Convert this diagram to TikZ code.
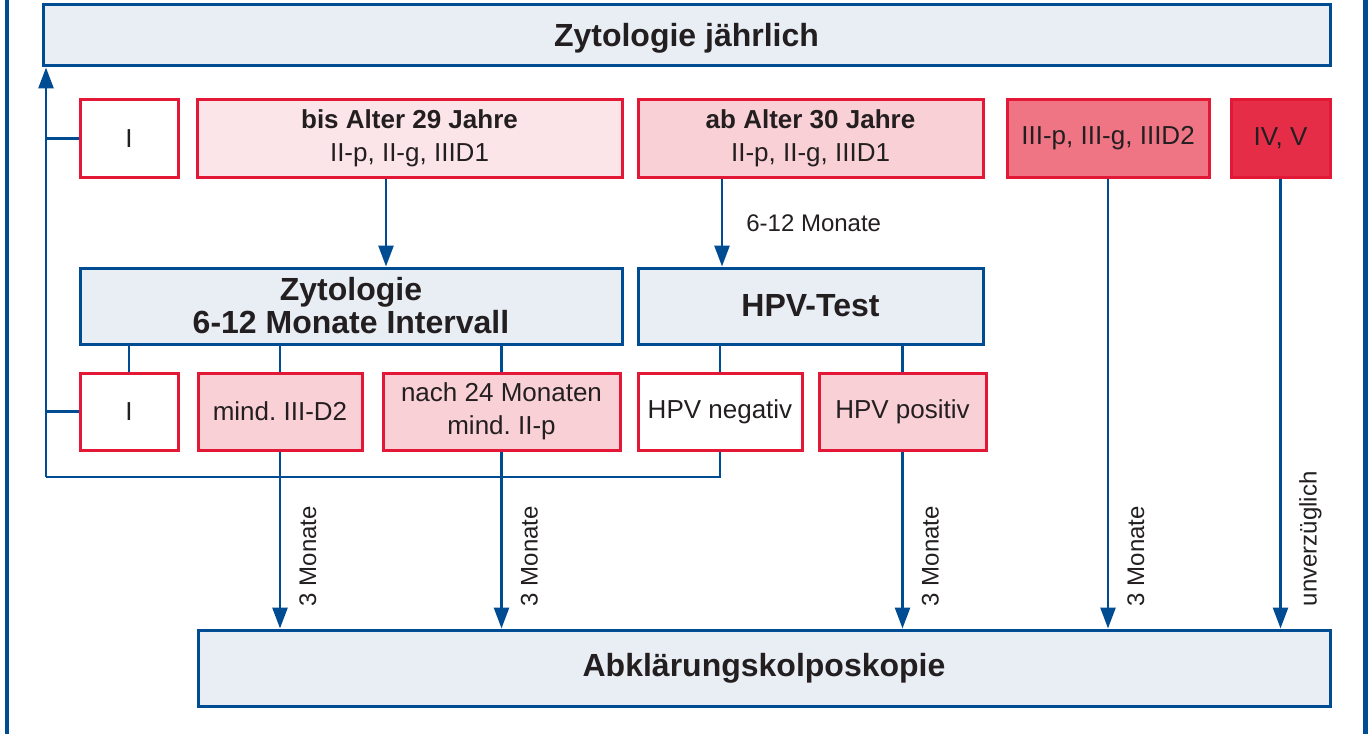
\documentclass[tikz,border=0pt]{standalone}
\usepackage{fontspec}
\setmainfont{Liberation Sans}
\usetikzlibrary{arrows.meta}
\definecolor{dblue}{HTML}{004C93}
\definecolor{lblue}{HTML}{E9EEF5}
\definecolor{rborder}{HTML}{E31837}
\definecolor{pink1}{HTML}{FCE5E8}
\definecolor{pink2}{HTML}{F9D0D6}
\definecolor{pink3}{HTML}{EF7585}
\definecolor{pink4}{HTML}{E52D48}
\definecolor{txt}{HTML}{231F20}
\frenchspacing
\begin{document}
\frenchspacing
\begin{tikzpicture}[x=1pt,y=-1pt,
  bbox/.style={draw=dblue, line width=3pt, fill=lblue, inner sep=0pt, text=txt, align=center,
    font=\fontsize{32}{33}\selectfont\bfseries},
  rbox/.style={draw=rborder, line width=3pt, fill=white, inner sep=0pt, text=txt, align=center,
    font=\fontsize{26}{33}\selectfont, minimum height=77},
  conn/.style={draw=dblue, line width=2.7pt},
  arr/.style={conn, -{Triangle[length=21pt,width=15pt]}},
  frame/.style={draw=dblue, line width=4.5pt},
  lab/.style={text=txt, inner sep=0pt, font=\fontsize{24}{26}\selectfont},
  vlab/.style={lab, rotate=90, anchor=base west}]
\useasboundingbox (0,0) rectangle (1372,733);
% outer frame (left and right only)
\draw[frame] (7,-5) -- (7,740);
\draw[frame] (1365.5,-5) -- (1365.5,740);

% boxes
\node[bbox, minimum width=1287, minimum height=61, text depth=1pt] (zj) at (686.5,35.5) {Zytologie jährlich};
\node[rbox, minimum width=98] (i1) at (129,138.5) {I};
\node[rbox, fill=pink1, minimum width=425] (bis) at (409.5,138.5) {\textbf{bis Alter 29 Jahre}\\II-p, II-g, IIID1};
\node[rbox, fill=pink2, minimum width=345] (ab) at (810.5,138.5) {\textbf{ab Alter 30 Jahre}\\II-p, II-g, IIID1};
\node[rbox, fill=pink3, minimum width=202] (iii) at (1108,138.5) {III-p, III-g, IIID2};
\node[rbox, fill=pink4, minimum width=99] (iv) at (1280.5,138.5) {IV, V};

\node[bbox, minimum width=542, minimum height=76] (zyt) at (351,306) {Zytologie\\6-12 Monate Intervall};
\node[bbox, minimum width=345, minimum height=76] (hpv) at (810.5,306) {HPV-Test};

\node[rbox, minimum width=98] (i2) at (129,411.5) {I};
\node[rbox, fill=pink2, minimum width=164] (mind) at (280,411.5) {mind.\ III-D2};
\node[rbox, fill=pink2, minimum width=237] (nach) at (501.5,411.5) {nach 24 Monaten\\mind.\ II-p};
\node[rbox, minimum width=164] (neg) at (720,411.5) {HPV negativ};
\node[rbox, fill=pink2, minimum width=167] (pos) at (902.5,411.5) {HPV positiv};

\node[bbox, minimum width=1132, minimum height=76] (abk) at (764,668) {Abklärungskolposkopie};

% feedback loop to Zytologie jährlich
\coordinate (lb) at (46,477);
\coordinate (xa) at (386,0);
\coordinate (xb) at (722,0);
\draw[arr] (lb) -- (lb |- zj.south);
\draw[conn] (i1.west) -- (i1.west -| lb);
\draw[conn] (i2.west) -- (i2.west -| lb);
\draw[conn] (neg.south) |- (lb);

% top row to second row
\draw[arr] (bis.south -| xa) -- (zyt.north -| xa);
\draw[arr] (ab.south -| xb) -- (hpv.north -| xb)
  node[lab, anchor=base west, pos=0.5, xshift=23pt, yshift=-9pt] {6-12 Monate};

% second row to third row
\draw[conn] (i2.north) -- (i2.north |- zyt.south);
\draw[conn] (mind.north) -- (mind.north |- zyt.south);
\draw[conn] (nach.north) -- (nach.north |- zyt.south);
\draw[conn] (neg.north) -- (neg.north |- hpv.south);
\draw[conn] (pos.north) -- (pos.north |- hpv.south);

% arrows to Abklaerungskolposkopie
\draw[arr] (mind.south) -- (mind.south |- abk.north) coordinate (e1);
\draw[arr] (nach.south) -- (nach.south |- abk.north) coordinate (e2);
\draw[arr] (pos.south) -- (pos.south |- abk.north) coordinate (e3);
\draw[arr] (iii.south) -- (iii.south |- abk.north) coordinate (e4);
\draw[arr] (iv.south) -- (iv.south |- abk.north) coordinate (e5);
\node[vlab] (l1) at ([shift={(36,-22)}]e1) {3 Monate};
\node[vlab] (l2) at ([shift={(36,-22)}]e2) {3 Monate};
\node[vlab] (l3) at ([shift={(36,-22)}]e3) {3 Monate};
\node[vlab] (l4) at ([shift={(36,-22)}]e4) {3 Monate};
\node[vlab] (l5) at ([shift={(36,-22)}]e5) {unverzüglich};
\end{tikzpicture}
\end{document}
